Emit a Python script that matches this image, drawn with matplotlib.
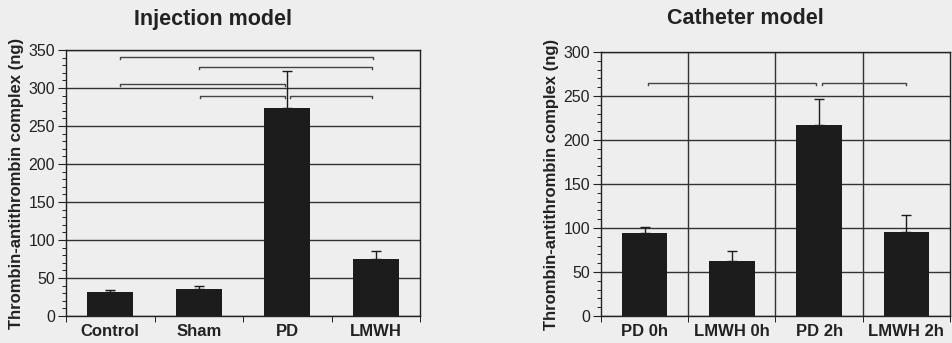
import matplotlib.pyplot as plt
from matplotlib.ticker import MultipleLocator

plt.rcParams['font.family'] = ['Liberation Sans', 'DejaVu Sans']

# injection model
inj_labels = ['Control', 'Sham', 'PD', 'LMWH']
inj_values = [31, 35, 274, 75]
inj_err = [3, 4, 48, 10]
# (start, end, height) of significance brackets
inj_brackets = [(0.11, 2.97, 341), (1.0, 2.96, 328), (0.11, 1.97, 305),
                (1.01, 1.98, 289), (2.03, 2.96, 289)]

# catheter model
cat_labels = ['PD 0h', 'LMWH 0h', 'PD 2h', 'LMWH 2h']
cat_values = [94, 63, 217, 95]
cat_err = [7, 11, 30, 20]
cat_brackets = [(0.04, 1.96, 265), (2.03, 3.0, 265)]

bg = '#eeeeee'
bar_col = '#1c1c1c'
ylab = 'Thrombin-antithrombin complex (ng)'


def draw(ax, labels, values, err, brackets, ymax, vgrid, tick_len):
    x = range(len(labels))
    ax.set_facecolor(bg)
    ax.set_axisbelow(True)
    ax.bar(x, values, width=0.52, color=bar_col, zorder=2)
    ax.errorbar(x, values, yerr=[[0] * len(err), err], fmt='none',
                ecolor=bar_col, elinewidth=1.0, capsize=3.5, capthick=1.0, zorder=3)
    ax.set_xlim(-0.5, len(labels) - 0.5)
    ax.set_ylim(0, ymax)
    ax.yaxis.set_major_locator(MultipleLocator(50))
    ax.yaxis.set_minor_locator(MultipleLocator(10))
    ax.grid(axis='y', which='major', color='#333333', linewidth=1.0)
    if vgrid:
        for b in range(1, len(labels)):
            ax.axvline(b - 0.5, color='#333333', linewidth=1.0, zorder=1)
    ax.set_xticks(x)
    ax.set_xticklabels(labels, fontsize=12, fontweight='bold', color='#222222')
    ax.set_xticks([i - 0.5 for i in range(len(labels) + 1)], minor=True)
    ax.tick_params(axis='x', which='major', length=0, pad=6)
    ax.tick_params(axis='x', which='minor', length=4, direction='out')
    ax.tick_params(axis='y', which='major', length=6, labelsize=11.5, colors='#222222', pad=2)
    ax.tick_params(axis='y', which='minor', length=3)
    for s in ax.spines.values():
        s.set_color('#222222')
        s.set_linewidth(1.0)
    ax.set_ylabel(ylab, fontsize=12, fontweight='bold', color='#222222', labelpad=3)
    for x0, x1, h in brackets:
        ax.plot([x0, x0, x1, x1], [h - tick_len, h, h, h - tick_len],
                color='#444444', linewidth=1.0, zorder=4)


fig = plt.figure(figsize=(9.53, 3.43), dpi=100, facecolor=bg)
ax1 = fig.add_axes([66 / 953, 1 - 316 / 343, 354 / 953, 266 / 343])
ax2 = fig.add_axes([601 / 953, 1 - 316 / 343, 349 / 953, 264 / 343])

draw(ax1, inj_labels, inj_values, inj_err, inj_brackets, 350, False, 2.5)
draw(ax2, cat_labels, cat_values, cat_err, cat_brackets, 300, True, 2.2)

fig.text(213 / 953, 1 - 19 / 343, 'Injection model', ha='center', va='center',
         fontsize=15.5, fontweight='bold', color='#222222')
fig.text(745 / 953, 1 - 19 / 343, 'Catheter model', ha='center', va='center',
         fontsize=15.5, fontweight='bold', color='#222222')

fig.savefig('out.png', dpi=100, facecolor=bg)
